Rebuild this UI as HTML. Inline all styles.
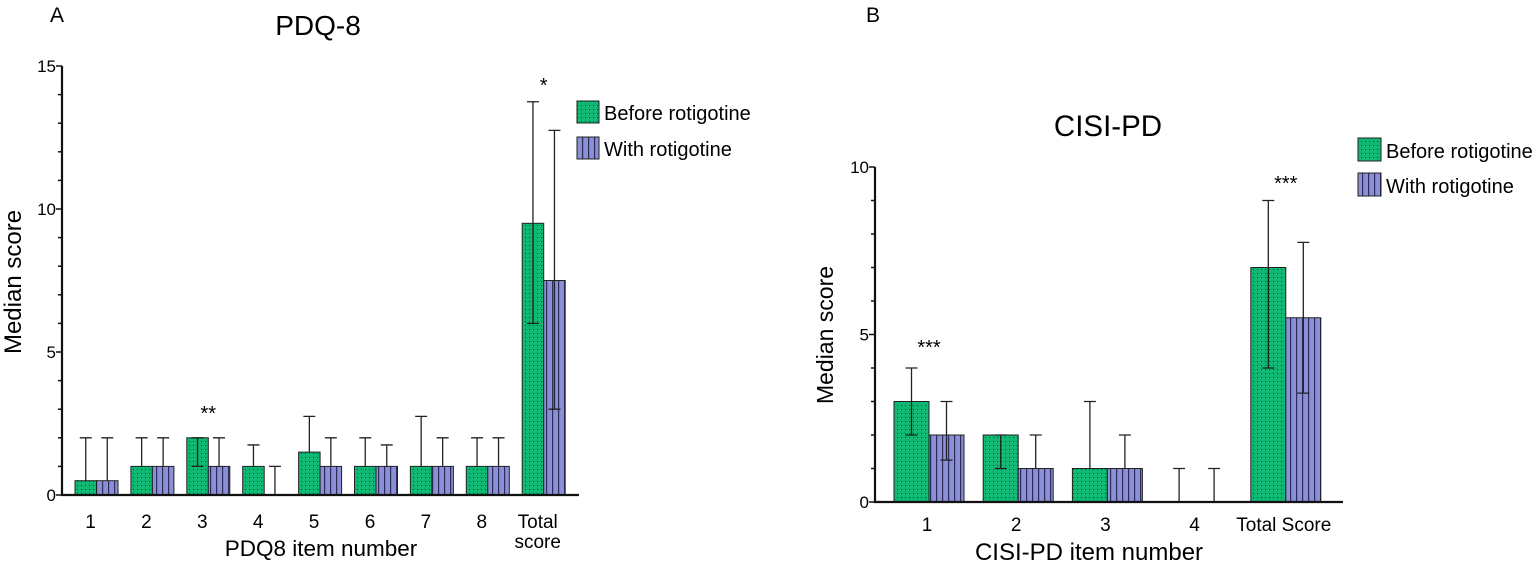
<!DOCTYPE html>
<html><head><meta charset="utf-8"><style>
html,body{margin:0;padding:0;background:#fff;}
svg{display:block;font-family:"Liberation Sans",Arial,sans-serif;}
</style></head><body>
<svg id="s" width="1535" height="568" viewBox="0 0 1535 568">
<defs>
<pattern id="dots" width="4" height="4" patternUnits="userSpaceOnUse"><rect width="4" height="4" fill="#10b874"/><rect x="1" y="1" width="1" height="1" fill="#114a30"/></pattern>
<pattern id="stripes" width="6" height="6" patternUnits="userSpaceOnUse"><rect width="6" height="6" fill="#8b8fd6"/><rect x="0" width="1.2" height="6" fill="#2b2d5a"/></pattern>
</defs>
<g id="A"></g>
<g id="B"></g>
</svg>
<script>
// Chart A data
const catsA = ["1","2","3","4","5","6","7","8","Total"];
const beforeA = [0.5,1,2,1,1.5,1,1,1,9.5];
const beforeA_hi = [2,2,2,1.75,2.75,2,2.75,2,13.75];
const beforeA_lo = [null,null,1,null,null,null,null,null,6];
const withA = [0.5,1,1,0,1,1,1,1,7.5];
const withA_hi = [2,2,2,1,2,1.75,2,2,12.75];
const withA_lo = [null,null,null,null,null,null,null,null,3];
const starsA = ["","","**","","","","","","*"];
const ticksA = [0,5,10,15];
// Chart B data
const catsB = ["1","2","3","4","Total Score"];
const beforeB = [3,2,1,0,7];
const beforeB_hi = [4,2,3,1,9];
const beforeB_lo = [2,1,null,null,4];
const withB = [2,1,1,0,5.5];
const withB_hi = [3,2,2,1,7.75];
const withB_lo = [1.25,null,null,null,3.25];
const starsB = ["***","","***","","***"];
const ticksB = [0,5,10];

const NS="http://www.w3.org/2000/svg";
function mk(parent,tag,attrs,text){const e=document.createElementNS(NS,tag);for(const k in attrs)e.setAttribute(k,attrs[k]);if(text!==undefined)e.textContent=text;parent.appendChild(e);return e;}

function draw(g,o){
  const y=v=>o.y0-(v/o.max)*(o.y0-o.yTop);
  const cx=i=>o.c0+i*o.step;
  o.series.forEach((s,si)=>{
    s.vals.forEach((v,i)=>{
      const x = si===0 ? cx(i)-o.bw : cx(i);
      if(v>0){
        const r=mk(g,'rect',{x:x,y:y(v),width:o.bw,height:o.y0-y(v),fill:s.fill,stroke:'#222','stroke-width':1});
        
        
      }
      const ex=x+o.bw/2;
      const hi=s.hi[i];
      const lo=s.lo[i]!=null?s.lo[i]:v;
      const ln=mk(g,'path',{d:`M${ex},${y(lo)}V${y(hi)}M${ex-6},${y(hi)}H${ex+6}`+(s.lo[i]!=null?`M${ex-6},${y(lo)}H${ex+6}`:''),stroke:'#222','stroke-width':1.3,fill:'none'});
      
      
    });
  });
  o.stars.forEach((st,i)=>{ if(st){const t=mk(g,'text',{x:cx(i),y:o.starY[i],'text-anchor':'middle','font-size':20},st);
    
    }});
  const ax=mk(g,'path',{d:`M${o.x0},${o.yTop}V${o.y0}H${o.xEnd}`,stroke:'#111','stroke-width':2.2,fill:'none'});
  
  
  for(let v=0;v<=o.max;v+=o.minor){mk(g,'line',{x1:o.x0-(v%o.major===0?6:4),x2:o.x0,y1:y(v),y2:y(v),stroke:'#111','stroke-width':1.5});}
  o.ticks.forEach(v=>{const t=mk(g,'text',{x:o.x0-6,y:y(v)+6,'text-anchor':'end','font-size':17},String(v));
    
    });
  o.cats.forEach((c,i)=>{
    const lines=o.catLines?o.catLines[i]:[c];
    lines.forEach((l,k)=>{const t=mk(g,'text',{x:cx(i)+o.labShift,y:o.labY+k*20,'text-anchor':'middle','font-size':19},l);
      
      });
  });
}

const gA=document.getElementById('A');
draw(gA,{y0:495,yTop:66,max:15,x0:62,xEnd:579,c0:96.5,step:55.9,bw:21.5,minor:1,major:5,ticks:ticksA,cats:catsA,labShift:-6,
  catLines:catsA.map(c=>c==="Total"?["Total","score"]:[c]),labY:528,stars:starsA,starY:catsA.map((c,i)=>i===2?420:92),
  series:[{vals:beforeA,hi:beforeA_hi,lo:beforeA_lo,fill:'url(#dots)'},{vals:withA,hi:withA_hi,lo:withA_lo,fill:'url(#stripes)'}]});
const gB=document.getElementById('B');
draw(gB,{y0:502,yTop:167,max:10,x0:875,xEnd:1343,c0:929,step:89.2,bw:35,minor:1,major:5,ticks:ticksB,cats:catsB,labShift:-2,labY:531,stars:starsB,starY:[354,387,0,0,190],
  series:[{vals:beforeB,hi:beforeB_hi,lo:beforeB_lo,fill:'url(#dots)'},{vals:withB,hi:withB_hi,lo:withB_lo,fill:'url(#stripes)'}]});

function txt(g,a,s,name){const t=mk(g,'text',a,s);return t;}
txt(gA,{x:57,y:22,'text-anchor':'middle','font-size':21},'A','panel-label-a');
txt(gA,{x:318,y:35,'text-anchor':'middle','font-size':28},'PDQ-8','chart-title-a');
txt(gA,{x:321,y:556,'text-anchor':'middle','font-size':22.5},'PDQ8 item number','x-axis-title-a');
txt(gA,{x:21,y:282,'text-anchor':'middle','font-size':24,transform:'rotate(-90 21 282)'},'Median score','y-axis-title-a');
txt(gB,{x:873,y:22,'text-anchor':'middle','font-size':21},'B','panel-label-b');
txt(gB,{x:1108,y:136,'text-anchor':'middle','font-size':29.5},'CISI-PD','chart-title-b');
txt(gB,{x:1089,y:560,'text-anchor':'middle','font-size':24},'CISI-PD item number','x-axis-title-b');
txt(gB,{x:833,y:335,'text-anchor':'middle','font-size':23,transform:'rotate(-90 833 335)'},'Median score','y-axis-title-b');

function legend(g,x,y1,y2,sz,fs){
  const a=mk(g,'g',{});
  mk(a,'rect',{x:x,y:y1,width:sz,height:sz,fill:'url(#dots)',stroke:'#222'});
  mk(a,'text',{x:x+sz+5,y:y1+sz-3,'font-size':fs},'Before rotigotine');
  const b=mk(g,'g',{});
  mk(b,'rect',{x:x,y:y2,width:sz,height:sz,fill:'url(#stripes)',stroke:'#222'});
  mk(b,'text',{x:x+sz+5,y:y2+sz-3,'font-size':fs},'With rotigotine');
}
legend(gA,577,101,137,22,20);
legend(gB,1358,138,173,23,20);
</script>
</body></html>
